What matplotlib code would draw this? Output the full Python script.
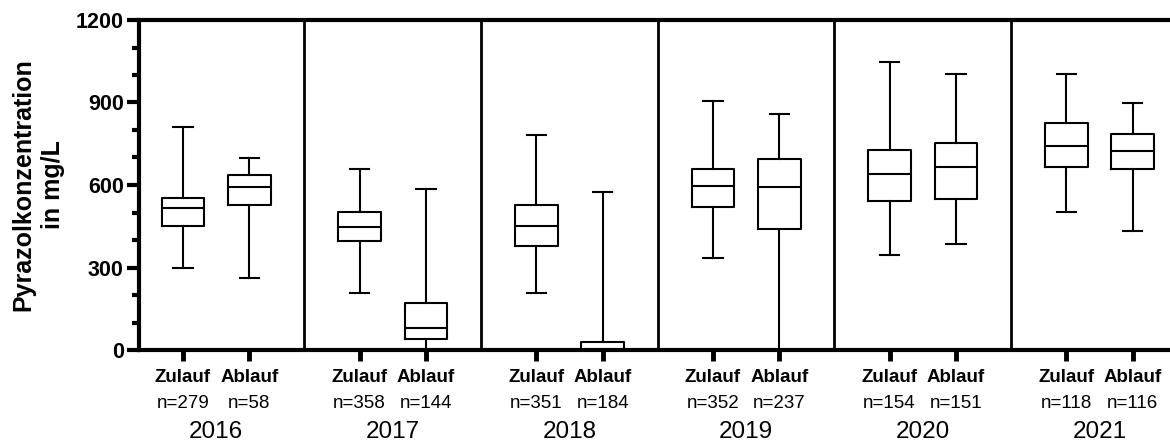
"""Boxplots der Pyrazolkonzentration in Zulauf und Ablauf, 2016-2021."""

import matplotlib.pyplot as plt
import matplotlib.transforms as mtransforms
from matplotlib.ticker import MultipleLocator

plt.rcParams["font.family"] = ["Liberation Sans", "DejaVu Sans"]

years = ["2016", "2017", "2018", "2019", "2020", "2021"]
stellen = ["Zulauf", "Ablauf"]

# Kennwerte je Jahr (Zulauf, Ablauf)
n_zulauf = [279, 358, 351, 352, 154, 118]
n_ablauf = [58, 144, 184, 237, 151, 116]

zu_min = [299, 206, 207, 335, 347, 501]
zu_q1 = [452, 397, 378, 520, 541, 664]
zu_med = [515, 447, 452, 595, 640, 741]
zu_q3 = [554, 503, 527, 657, 727, 824]
zu_max = [812, 659, 782, 904, 1048, 1002]

ab_min = [262, 0, 0, 0, 384, 434]
ab_q1 = [527, 41, 0, 440, 548, 658]
ab_med = [594, 79, 0, 592, 667, 724]
ab_q3 = [637, 172, 28, 696, 754, 784]
ab_max = [699, 584, 574, 859, 1005, 897]

GROUP = 2.656  # Abstand zwischen den Jahresgruppen

fig = plt.figure(figsize=(11.7, 4.43), dpi=100)
ax = fig.add_axes([139 / 1170, 1 - 350 / 443, 1 - 139 / 1170, 330 / 443])

stats = []
positions = []
for g in range(len(years)):
    stats.append(dict(whislo=zu_min[g], q1=zu_q1[g], med=zu_med[g],
                      q3=zu_q3[g], whishi=zu_max[g], fliers=[]))
    stats.append(dict(whislo=ab_min[g], q1=ab_q1[g], med=ab_med[g],
                      q3=ab_q3[g], whishi=ab_max[g], fliers=[]))
    positions += [g * GROUP, g * GROUP + 1]

lw = 1.5
ax.bxp(
    stats,
    positions=positions,
    widths=0.64,
    capwidths=0.29,
    showfliers=False,
    boxprops=dict(color="black", linewidth=lw),
    whiskerprops=dict(color="black", linewidth=lw),
    capprops=dict(color="black", linewidth=lw),
    medianprops=dict(color="black", linewidth=lw),
    manage_ticks=False,
)

# Trennlinien zwischen den Jahren
for g in range(len(years) - 1):
    ax.axvline(g * GROUP + 1 + (GROUP - 1) / 2, color="black", linewidth=2.0)

ax.set_xlim(-0.66, 14.84)
ax.set_ylim(0, 1200)
ax.yaxis.set_major_locator(MultipleLocator(300))
ax.yaxis.set_minor_locator(MultipleLocator(100))
ax.set_xticks(positions)
ax.set_xticklabels([])

for side in ["left", "top", "bottom"]:
    ax.spines[side].set_linewidth(3.0)
ax.spines["right"].set_visible(False)

ax.tick_params(axis="y", which="major", length=9, width=3, labelsize=15.5, pad=2)
ax.tick_params(axis="y", which="minor", length=5, width=3)
ax.tick_params(axis="x", which="major", length=8, width=3.5)
for lab in ax.get_yticklabels():
    lab.set_fontweight("bold")

fig.text(38 / 1170, 1 - 185 / 443, "Pyrazolkonzentration\nin mg/L",
         rotation=90, ha="center", va="center", multialignment="center",
         fontsize=18, fontweight="bold", linespacing=1.3)

# Beschriftung unter den Boxen
trans = mtransforms.blended_transform_factory(ax.transData, ax.transAxes)
for g, year in enumerate(years):
    x0 = g * GROUP
    for k, (name, n) in enumerate(zip(stellen, [n_zulauf[g], n_ablauf[g]])):
        ax.text(x0 + k, -28 / 330, name, transform=trans, ha="center",
                va="center", fontsize=13.5, fontweight="bold", clip_on=False)
        ax.text(x0 + k, -53 / 330, f"n={n}", transform=trans, ha="center",
                va="center", fontsize=13.5, clip_on=False)
    ax.text(x0 + 0.5, -82 / 330, year, transform=trans, ha="center",
            va="center", fontsize=17.5, clip_on=False)

plt.savefig("out.png", dpi=100)
